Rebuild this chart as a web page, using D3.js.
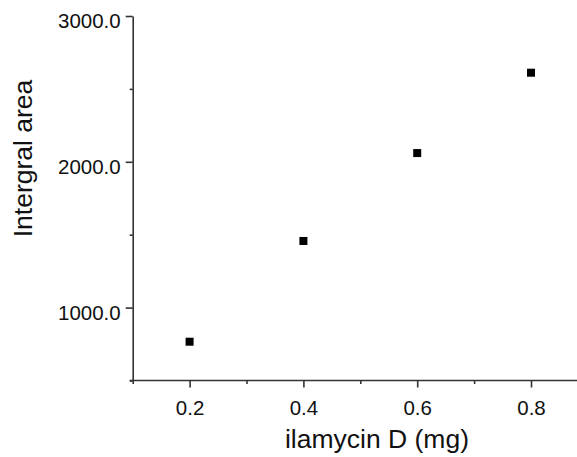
<!DOCTYPE html>
<html>
<head>
<meta charset="utf-8">
<script src="https://cdn.jsdelivr.net/npm/d3@7"></script>
<style>
  body { margin: 0; background: #fff; }
  svg { display: block; }
  text { font-family: "Liberation Sans", Arial, sans-serif; fill: #111; }
</style>
</head>
<body>
<svg id="chart" width="577" height="457"></svg>
<script>
// data
var doses = [0.2, 0.4, 0.6, 0.8];
var areas = [766, 1457, 2060, 2611];

var xMajor = [0.2, 0.4, 0.6, 0.8];
var xMinor = [0.1, 0.3, 0.5, 0.7, 0.9];
var yMajor = [1000, 2000, 3000];
var yMinor = [500, 1500, 2500];

var svg = d3.select("#chart");

var x = d3.scaleLinear().domain([0.1, 0.9]).range([132.7, 587.9]);
var y = d3.scaleLinear().domain([500, 3000]).range([380.5, 16]);

var axisColor = "#333";

// y axis
var yAxis = svg.append("g")
    .attr("transform", "translate(" + x(0.1) + ",0)")
    .call(d3.axisLeft(y).tickValues(yMajor).tickSize(7).tickSizeOuter(0)
        .tickFormat(function(d) { return d3.format(".1f")(d); }));
yAxis.select(".domain").attr("stroke", axisColor).attr("stroke-width", 1.6);
yAxis.selectAll(".tick line").attr("stroke", axisColor).attr("stroke-width", 1.6);
yAxis.selectAll(".tick text")
    .attr("font-size", 20.5)
    .attr("font-family", "Liberation Sans, Arial, sans-serif")
    .attr("fill", "#111")
    .attr("x", -12)
    .attr("dy", "0.58em");

var yMinorAxis = svg.append("g")
    .attr("transform", "translate(" + x(0.1) + ",0)")
    .call(d3.axisLeft(y).tickValues(yMinor).tickSize(3).tickFormat(""));
yMinorAxis.select(".domain").remove();
yMinorAxis.selectAll(".tick line").attr("stroke", axisColor).attr("stroke-width", 1.6);

// x axis
var xAxis = svg.append("g")
    .attr("transform", "translate(0," + y(500) + ")")
    .call(d3.axisBottom(x).tickValues(xMajor).tickSize(7).tickSizeOuter(0)
        .tickFormat(d3.format(".1f")));
xAxis.select(".domain").attr("stroke", axisColor).attr("stroke-width", 1.6)
    .attr("d", "M" + (x(0.1) - 3) + ",0H" + x(0.9));
xAxis.selectAll(".tick line").attr("stroke", axisColor).attr("stroke-width", 1.6);
xAxis.selectAll(".tick text")
    .attr("font-size", 20.5)
    .attr("font-family", "Liberation Sans, Arial, sans-serif")
    .attr("fill", "#111")
    .attr("y", 20);

var xMinorAxis = svg.append("g")
    .attr("transform", "translate(0," + y(500) + ")")
    .call(d3.axisBottom(x).tickValues(xMinor).tickSize(3.5).tickFormat(""));
xMinorAxis.select(".domain").remove();
xMinorAxis.selectAll(".tick line").attr("stroke", axisColor).attr("stroke-width", 1.6);

// axis titles
svg.append("text")
    .attr("x", 377)
    .attr("y", 448)
    .attr("text-anchor", "middle")
    .attr("font-size", 26.5)
    .text("ilamycin D (mg)");

svg.append("text")
    .attr("transform", "translate(32,158.5) rotate(-90)")
    .attr("text-anchor", "middle")
    .attr("font-size", 26.5)
    .text("Intergral area");

// points
var s = 8;
svg.append("g")
  .selectAll("rect")
  .data(doses)
  .enter().append("rect")
    .attr("x", function(d) { return x(d) - s / 2; })
    .attr("y", function(d, i) { return y(areas[i]) - s / 2; })
    .attr("width", s)
    .attr("height", s)
    .attr("fill", "#000");
</script>
</body>
</html>
